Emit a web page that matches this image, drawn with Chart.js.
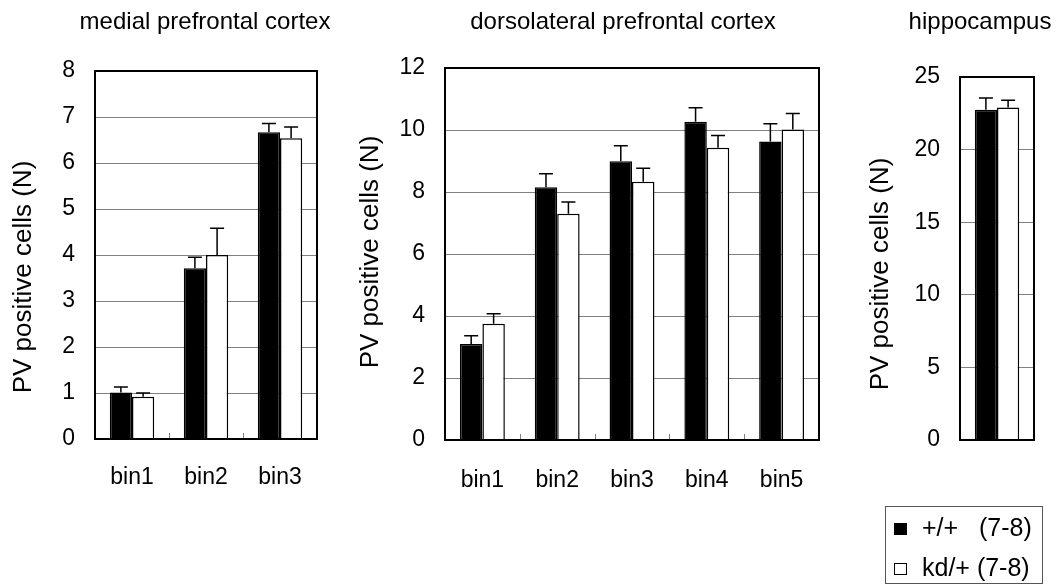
<!DOCTYPE html>
<html>
<head>
<meta charset="utf-8">
<script src="https://cdn.jsdelivr.net/npm/chart.js@4.4.0/dist/chart.umd.min.js"></script>
<style>
    html, body { margin: 0; padding: 0; background: #fff; overflow: hidden; }
    body { width: 1060px; height: 587px; position: relative; }
    canvas { position: absolute; left: 0; top: 0; }
</style>
</head>
<body>
<canvas id="mpfcChart" width="1060" height="587"></canvas>
<canvas id="dlpfcChart" width="1060" height="587"></canvas>
<canvas id="hippoChart" width="1060" height="587"></canvas>
<script>
// series and values
const seriesNames = ['+/+   (7-8)', 'kd/+ (7-8)'];
const yTitle = 'PV positive cells (N)';

const mpfcBins = ['bin1', 'bin2', 'bin3'];
const mpfcWT = [1.01, 3.71, 6.67];
const mpfcWTErr = [0.12, 0.24, 0.19];
const mpfcKD = [0.92, 4.0, 6.54];
const mpfcKDErr = [0.08, 0.58, 0.24];

const dlpfcBins = ['bin1', 'bin2', 'bin3', 'bin4', 'bin5'];
const dlpfcWT = [3.10, 8.15, 8.99, 10.27, 9.63];
const dlpfcWTErr = [0.26, 0.44, 0.50, 0.45, 0.57];
const dlpfcKD = [3.75, 7.30, 8.33, 9.43, 10.02];
const dlpfcKDErr = [0.32, 0.38, 0.44, 0.39, 0.51];

const hippoBins = [''];
const hippoWT = [22.75];
const hippoWTErr = [0.8];
const hippoKD = [22.9];
const hippoKDErr = [0.5];

const FONT = "'Liberation Sans', Arial, Helvetica, sans-serif";

// error bars (upper only, with cap)
const errorBars = {
    id: 'errorBars',
    afterDatasetsDraw(chart) {
        const ctx = chart.ctx;
        const y = chart.scales.y;
        ctx.save();
        ctx.strokeStyle = '#000';
        ctx.lineWidth = 1.5;
        chart.data.datasets.forEach((ds, di) => {
            const meta = chart.getDatasetMeta(di);
            meta.data.forEach((bar, i) => {
                const top = y.getPixelForValue(ds.data[i] + ds.errors[i]);
                ctx.beginPath();
                ctx.moveTo(bar.x, bar.y);
                ctx.lineTo(bar.x, top);
                ctx.moveTo(bar.x - 7, top);
                ctx.lineTo(bar.x + 7, top);
                ctx.stroke();
            });
        });
        ctx.restore();
    }
};

// black box round the plot area plus small inner ticks between categories
const frame = {
    id: 'frame',
    afterDatasetsDraw(chart) {
        const ctx = chart.ctx;
        const a = chart.chartArea;
        const x = chart.scales.x;
        ctx.save();
        ctx.strokeStyle = '#808080';
        ctx.lineWidth = 1;
        for (let i = 0; i < x.ticks.length - 1; i++) {
            const px = Math.round((x.getPixelForTick(i) + x.getPixelForTick(i + 1)) / 2) + 0.5;
            ctx.beginPath();
            ctx.moveTo(px, a.bottom);
            ctx.lineTo(px, a.bottom - 6);
            ctx.stroke();
        }
        ctx.strokeStyle = '#000';
        ctx.lineWidth = 2;
        ctx.strokeRect(a.left, a.top, a.right - a.left, a.bottom - a.top);
        ctx.restore();
    }
};

// panel heading and rotated y title
const panelText = {
    id: 'panelText',
    afterDraw(chart, args, opts) {
        const ctx = chart.ctx;
        ctx.save();
        ctx.fillStyle = '#000';
        ctx.textAlign = 'center';
        ctx.textBaseline = 'middle';
        ctx.font = '24px ' + FONT;
        ctx.fillText(opts.title, opts.titleX, 22);
        ctx.translate(opts.yTitleX, opts.yTitleY);
        ctx.rotate(-Math.PI / 2);
        ctx.font = '26px ' + FONT;
        ctx.fillText(yTitle, 0, 0);
        ctx.restore();
    }
};

const legendBox = {
    id: 'legendBox',
    afterDraw(chart, args, opts) {
        if (!opts.show) return;
        const ctx = chart.ctx;
        ctx.save();
        ctx.strokeStyle = '#555';
        ctx.lineWidth = 1;
        ctx.strokeRect(885.5, 506.5, 157, 77);
        ctx.font = '25px ' + FONT;
        ctx.textBaseline = 'middle';
        chart.data.datasets.forEach((ds, i) => {
            const cy = 529 + i * 40;
            ctx.fillStyle = ds.backgroundColor;
            ctx.fillRect(894, cy - 6, 13, 12);
            ctx.strokeStyle = '#000';
            ctx.lineWidth = 1;
            ctx.strokeRect(894.5, cy - 5.5, 12, 11);
            ctx.fillStyle = '#000';
            ctx.fillText(ds.label, 922, cy);
        });
        ctx.restore();
    }
};

function makePanel(id, p) {
    return new Chart(document.getElementById(id), {
        type: 'bar',
        data: {
            labels: p.labels,
            datasets: [{
                label: seriesNames[0],
                data: p.wt,
                errors: p.wtErr,
                backgroundColor: '#000',
                borderColor: '#000',
                borderWidth: 1.5
            }, {
                label: seriesNames[1],
                data: p.kd,
                errors: p.kdErr,
                backgroundColor: '#fff',
                borderColor: '#000',
                borderWidth: 1.5
            }]
        },
        options: {
            responsive: false,
            animation: false,
            layout: { padding: { left: p.padL, right: p.padR, top: p.padT, bottom: 0 } },
            datasets: { bar: { categoryPercentage: 0.6, barPercentage: 1 } },
            plugins: {
                legend: { display: false },
                tooltip: { enabled: false },
                panelText: { title: p.title, titleX: p.titleX, yTitleX: p.yTitleX, yTitleY: p.yTitleY },
                legendBox: { show: !!p.legend }
            },
            scales: {
                x: {
                    grid: { display: false },
                    border: { display: false },
                    ticks: { color: '#000', font: { family: FONT, size: 23 }, padding: p.xPad },
                    afterFit(s) { s.height = p.xH; }
                },
                y: {
                    min: 0,
                    max: p.max,
                    ticks: { stepSize: p.step, color: '#000', font: { family: FONT, size: 23 }, padding: 20 },
                    grid: { color: '#808080', lineWidth: 1, drawTicks: false },
                    border: { display: false },
                    afterFit(s) { s.width = p.yW; }
                }
            }
        },
        plugins: [errorBars, frame, panelText, legendBox]
    });
}

makePanel('mpfcChart', {
    labels: mpfcBins, wt: mpfcWT, wtErr: mpfcWTErr, kd: mpfcKD, kdErr: mpfcKDErr,
    max: 8, step: 1, title: 'medial prefrontal cortex', titleX: 205,
    yTitleX: 24, yTitleY: 277,
    padL: 0, padR: 743, padT: 71, xH: 148, yW: 95, xPad: 17
});

makePanel('dlpfcChart', {
    labels: dlpfcBins, wt: dlpfcWT, wtErr: dlpfcWTErr, kd: dlpfcKD, kdErr: dlpfcKDErr,
    max: 12, step: 2, title: 'dorsolateral prefrontal cortex', titleX: 623,
    yTitleX: 371, yTitleY: 252,
    padL: 350, padR: 241, padT: 68, xH: 147, yW: 95, xPad: 19
});

makePanel('hippoChart', {
    labels: hippoBins, wt: hippoWT, wtErr: hippoWTErr, kd: hippoKD, kdErr: hippoKDErr,
    max: 25, step: 5, title: 'hippocampus', titleX: 980,
    yTitleX: 881, yTitleY: 274,
    padL: 862, padR: 26, padT: 77, xH: 147, yW: 98, xPad: 19, legend: true
});
</script>
</body>
</html>
